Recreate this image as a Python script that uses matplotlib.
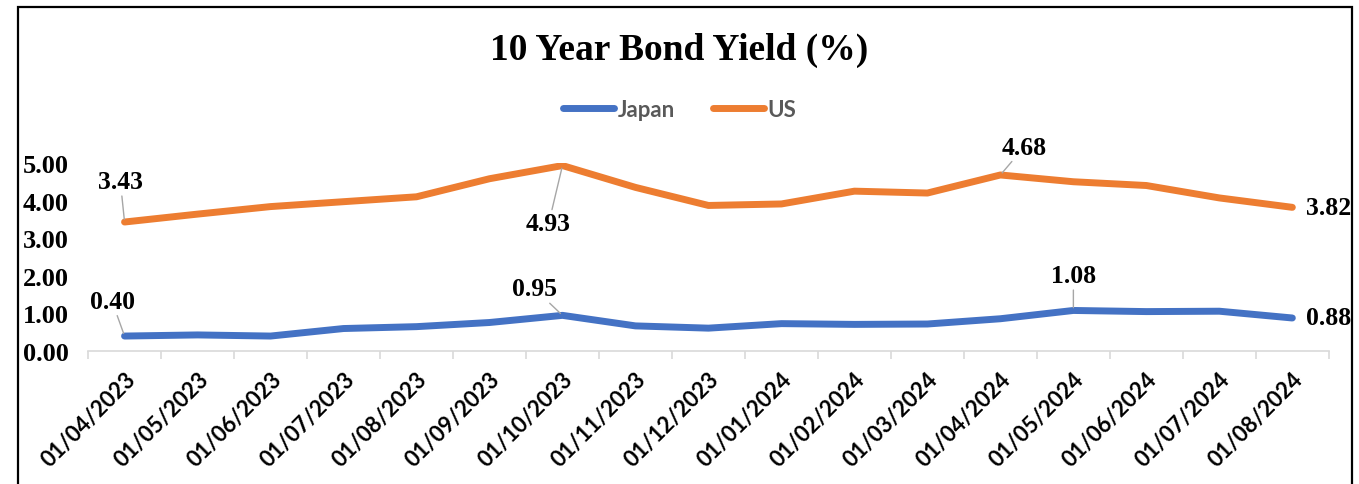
import numpy as np
import matplotlib.pyplot as plt
from matplotlib.patches import Rectangle

dates = ["01/04/2023", "01/05/2023", "01/06/2023", "01/07/2023", "01/08/2023",
         "01/09/2023", "01/10/2023", "01/11/2023", "01/12/2023", "01/01/2024",
         "01/02/2024", "01/03/2024", "01/04/2024", "01/05/2024", "01/06/2024",
         "01/07/2024", "01/08/2024"]
japan = [0.40, 0.43, 0.40, 0.60, 0.65, 0.76, 0.95, 0.67, 0.61, 0.73,
         0.71, 0.72, 0.86, 1.08, 1.05, 1.06, 0.88]
us = [3.43, 3.64, 3.84, 3.97, 4.10, 4.58, 4.93, 4.35, 3.87, 3.91,
      4.25, 4.20, 4.68, 4.50, 4.40, 4.07, 3.82]
yticks = [0, 1, 2, 3, 4, 5]

# labelled points: (series, index, text offset in points, leader line?)
labels = [
    ("us", 0, (-3, 29), True),
    ("us", 6, (-10, -42), True),
    ("us", 12, (17, 20), True),
    ("us", 16, (26, 0), False),
    ("japan", 0, (-9, 25), True),
    ("japan", 6, (-20, 19), True),
    ("japan", 13, (0, 25), True),
    ("japan", 16, (26, 0), False),
]

BLUE = "#4472C4"
ORANGE = "#ED7D31"
serif = "Liberation Serif"
sans = "Lato"

fig = plt.figure(figsize=(13.59, 4.85), dpi=100)
ax = fig.add_axes([0.0648, 0.274, 0.913, 0.388])

x = np.arange(len(dates))
ax.plot(x, japan, color=BLUE, lw=5, solid_capstyle="round", label="Japan")
ax.plot(x, us, color=ORANGE, lw=5, solid_capstyle="round", label="US")

series = {"japan": japan, "us": us}
for name, i, off, leader in labels:
    v = series[name][i]
    arrow = None
    if leader:
        arrow = dict(arrowstyle="-", color="#a6a6a6", lw=1, shrinkA=0, shrinkB=2)
    ax.annotate(f"{v:.2f}", xy=(i, v), xytext=off, textcoords="offset points",
                ha="center", va="center", fontsize=18.5, fontweight="bold",
                family=serif, arrowprops=arrow)

ax.set_xlim(-0.5, 16.5)
ax.set_ylim(0, 5)
ax.set_yticks(yticks)
ax.set_yticklabels([f"{t:.2f}" for t in yticks], family=serif, fontsize=19,
                   fontweight="bold")
ax.set_xticks(x)
ax.set_xticklabels(dates, rotation=45, ha="right", rotation_mode="anchor",
                   family=sans, fontsize=16, fontweight="bold")
ax.set_xticks(np.arange(-0.5, 17, 1), minor=True)
ax.tick_params(axis="x", which="major", length=0, pad=12)
ax.tick_params(axis="x", which="minor", length=6, color="#d9d9d9", width=1.2)
ax.tick_params(axis="y", length=0, pad=14)
for s in ["top", "right", "left"]:
    ax.spines[s].set_visible(False)
ax.spines["bottom"].set_color("#d9d9d9")
ax.spines["bottom"].set_linewidth(1.2)

fig.text(0.5, 0.895, "10 Year Bond Yield (%)", ha="center", va="center",
         family=serif, fontsize=27, fontweight="bold")
leg = fig.legend(loc="center", bbox_to_anchor=(0.5, 0.773), ncol=2, frameon=False,
                 handlelength=2.3, columnspacing=1.7, handletextpad=0.15,
                 prop=dict(family=sans, weight="bold", size=16))
for t in leg.get_texts():
    t.set_color("#595959")

fig.patches.append(Rectangle((18 / 1359, -0.1), (1352 - 18) / 1359, 0.1 + (485 - 8) / 485,
                             transform=fig.transFigure, fill=False, ec="black", lw=1.6))

fig.savefig("out.png", dpi=100)
